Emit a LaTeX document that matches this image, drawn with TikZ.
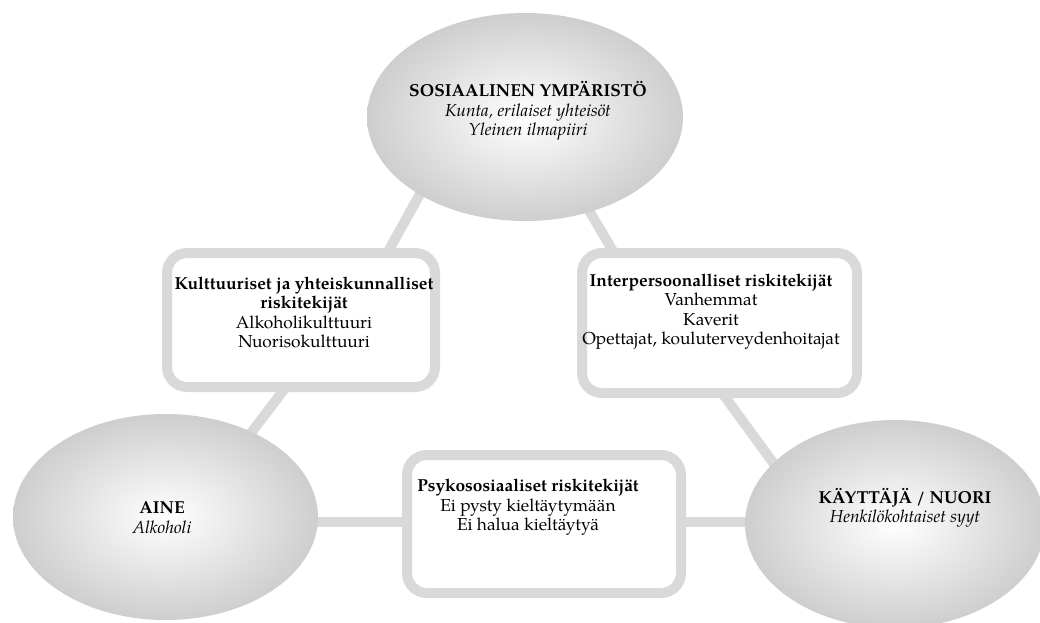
\documentclass[tikz,border=0pt]{standalone}
\usepackage{fontspec}
\setmainfont{texgyrepagella}[Extension=.otf,UprightFont=*-regular,BoldFont=*-bold,ItalicFont=*-italic,BoldItalicFont=*-bolditalic]
\usetikzlibrary{shapes.geometric,backgrounds}

\tikzset{
	bubble/.style={ellipse, draw=none, inner sep=0pt, inner color=white, outer color={rgb, 255:red, 206; green, 206; blue, 206 }},
	riskbox/.style={rounded corners=15pt, draw={rgb, 255:red, 217; green, 217; blue, 217 }, line width=7.5pt, fill=white, inner sep=0pt},
	link/.style={draw={rgb, 255:red, 217; green, 217; blue, 217 }, line width=7.5pt},
	txt/.style={align=center, inner sep=0pt, font=\fontsize{13}{14.6}\selectfont}}
\tikzset{every picture/.style={line width=0.75pt}}

\begin{document}
\begin{tikzpicture}[x=0.75pt,y=0.75pt,yscale=-1,xscale=1]
	\useasboundingbox (0,0) rectangle (1040,622);

	%Shape: Ellipse [id:sos] 
	\node [bubble, minimum width=237pt, minimum height=156pt] (sos) at (525,117) {};
	%Shape: Ellipse [id:aine] 
	\node [bubble, minimum width=228.75pt, minimum height=154.5pt] (aine) at (165.5,517) {};
	%Shape: Ellipse [id:kay] 
	\node [bubble, minimum width=225pt, minimum height=156pt] (kay) at (895,524) {};
	%Shape: Rounded Rect [id:kult] 
	\node [riskbox, minimum width=201pt, minimum height=100.5pt] (kult) at (301,320) {};
	%Shape: Rounded Rect [id:inter] 
	\node [riskbox, minimum width=206.25pt, minimum height=105pt] (inter) at (719.5,323) {};
	%Shape: Rounded Rect [id:psyk] 
	\node [riskbox, minimum width=205.5pt, minimum height=103.5pt] (psyk) at (544,524) {};

	\begin{pgfonlayer}{background}
	%Straight Lines [id:sos-kult] 
	\draw [link] ([shift={(-100,68)}]sos.center) -- ([shift={(74,-45)}]kult.center) ;
	%Straight Lines [id:sos-inter] 
	\draw [link] ([shift={(52,73)}]sos.center) -- ([shift={(-92.5,-48)}]inter.center) ;
	%Straight Lines [id:kult-aine] 
	\draw [link] ([shift={(-2,50)}]kult.center) -- ([shift={(72.5,-67)}]aine.center) ;
	%Straight Lines [id:inter-kay] 
	\draw [link] ([shift={(-10.5,52)}]inter.center) -- ([shift={(-102,-34)}]kay.center) ;
	%Straight Lines [id:aine-psyk] 
	\draw [link] ([shift={(100,5)}]aine.center) -- ([shift={(-100,-2)}]psyk.center) ;
	%Straight Lines [id:psyk-kay] 
	\draw [link] ([shift={(100,-2)}]psyk.center) -- ([shift={(-100,-2)}]kay.center) ;
	\end{pgfonlayer}

	% Text Node
	\node [txt] (sostxt) at (528,111) {\textbf{SOSIAALINEN YMPÄRISTÖ}\\\textit{Kunta, erilaiset yhteisöt}\\\textit{Yleinen ilmapiiri}};
	% Text Node
	\node [txt] (kulttxt) at (304,312.5) {\textbf{Kulttuuriset ja yhteiskunnalliset}\\\textbf{riskitekijät}\\Alkoholikulttuuri\\Nuorisokulttuuri};
	% Text Node
	\node [txt] (intertxt) at (711,311.5) {\textbf{Interpersoonalliset riskitekijät}\\Vanhemmat\\Kaverit\\Opettajat, kouluterveydenhoitajat};
	% Text Node
	\node [txt] (psyktxt) at (528,507.5) {\textbf{Psykososiaaliset riskitekijät}\\Ei pysty kieltäytymään\\Ei halua kieltäytyä};
	% Text Node
	\node [txt] (ainetxt) at (162,517.5) {\textbf{AINE}\\\textit{Alkoholi}};
	% Text Node
	\node [txt] (kaytxt) at (905,508) {\textbf{KÄYTTÄJÄ / NUORI}\\\textit{Henkilökohtaiset syyt}};

\end{tikzpicture}
\end{document}
